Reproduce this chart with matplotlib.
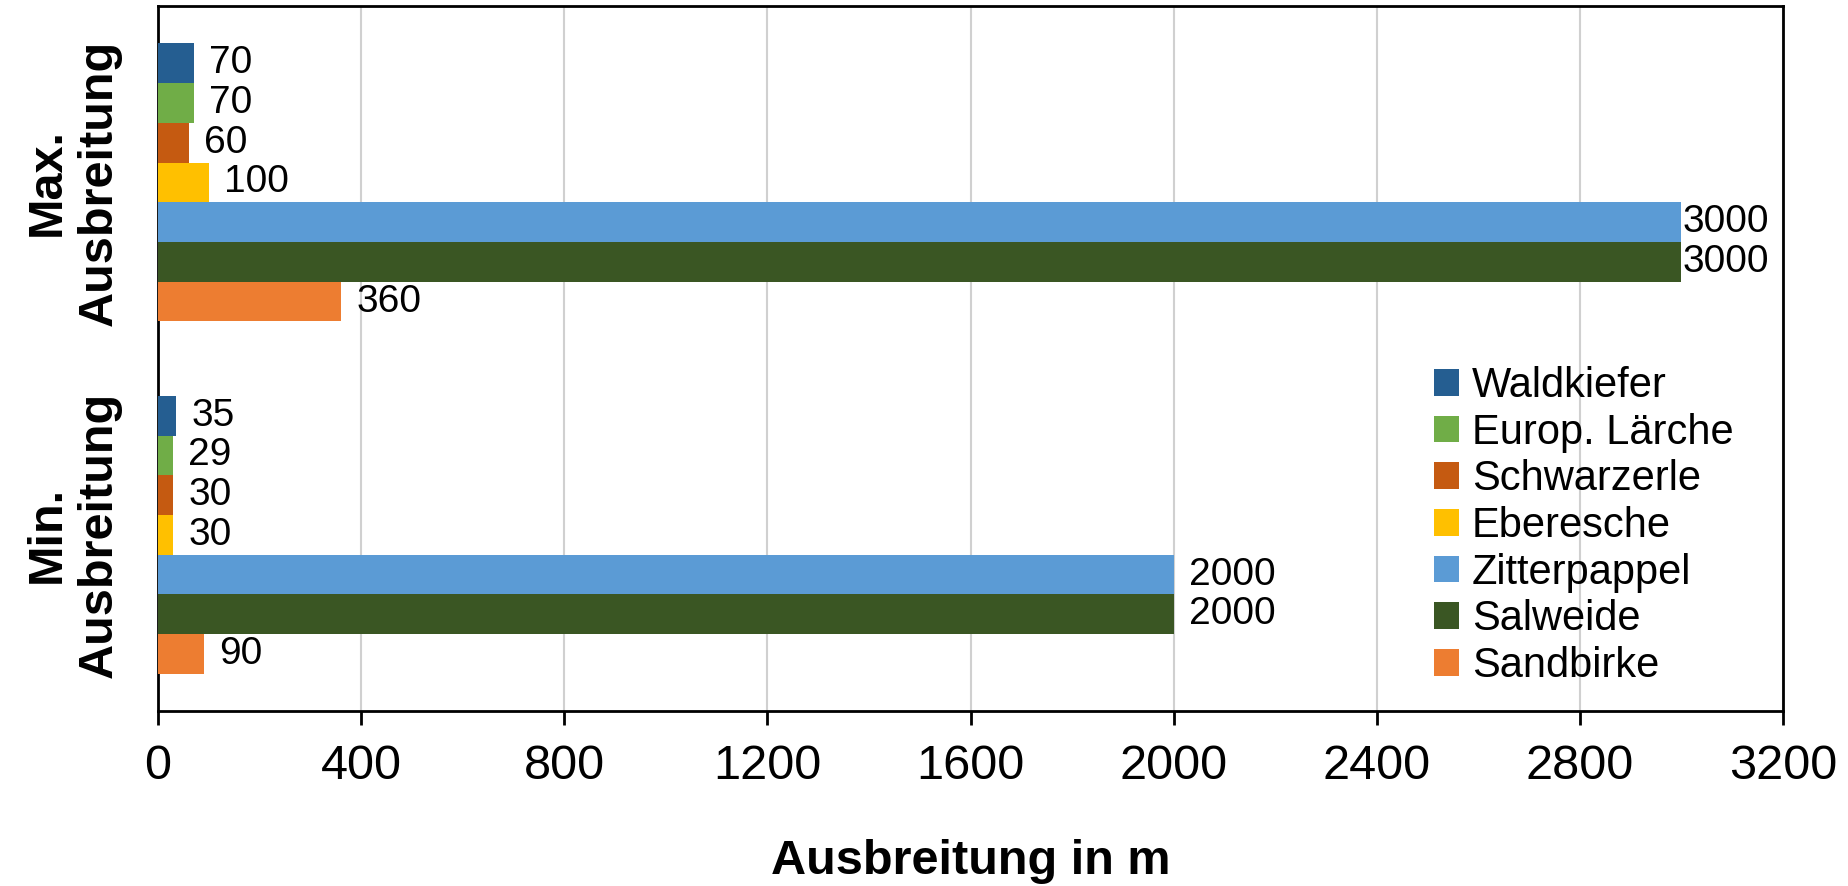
import numpy as np
import matplotlib.pyplot as plt

plt.rcParams['font.family'] = ['Liberation Sans', 'DejaVu Sans']

# Daten: Ausbreitung je Baumart
categories = ['Min.\nAusbreitung', 'Max.\nAusbreitung']
species = ['Waldkiefer', 'Europ. Lärche', 'Schwarzerle', 'Eberesche',
           'Zitterpappel', 'Salweide', 'Sandbirke']
min_values = [35, 29, 30, 30, 2000, 2000, 90]
max_values = [70, 70, 60, 100, 3000, 3000, 360]
colors = ['#255E91', '#70AD47', '#C55A11', '#FFC000',
          '#5B9BD5', '#3A5623', '#ED7D31']
x_ticks = [0, 400, 800, 1200, 1600, 2000, 2400, 2800, 3200]

fig = plt.figure(figsize=(18.49, 8.86), dpi=100)
ax = fig.add_axes([0.0855, 0.1975, 0.8788, 0.7955])

y_pos = np.arange(len(categories))
bar_h = 0.1127

for i, name in enumerate(species):
    vals = [min_values[i], max_values[i]]
    ypos = y_pos + (3 - i) * bar_h
    ax.barh(ypos, vals, height=bar_h, color=colors[i], label=name, zorder=3)
    for y, v in zip(ypos, vals):
        off = 1 if v >= 3000 else 11
        ax.annotate(str(v), xy=(v, y), xytext=(off, 0), textcoords='offset points',
                    va='center', ha='left', fontsize=28)

ax.set_xlim(0, 3200)
ax.set_ylim(-0.5, 1.5)
ax.set_xticks(x_ticks)
ax.set_xticklabels([str(t) for t in x_ticks], fontsize=35)
ax.tick_params(axis='x', direction='out', length=10, width=2, pad=14)
ax.set_yticks(y_pos)
ax.set_yticklabels(categories, rotation=90, fontsize=35, fontweight='bold',
                   va='center', ha='right', multialignment='center')
ax.tick_params(axis='y', length=0, pad=26)

ax.grid(axis='x', color='#D0D0D0', linewidth=1.5, zorder=0)
for s in ax.spines.values():
    s.set_linewidth(2)
    s.set_color('black')

ax.set_xlabel('Ausbreitung in m', fontsize=35, fontweight='bold', labelpad=36)

ax.legend(loc='lower right', bbox_to_anchor=(0.985, 0.0), frameon=False,
          fontsize=30, handlelength=0.6, handleheight=0.6, handletextpad=0.3,
          labelspacing=0.16, borderaxespad=0.2)

fig.savefig('out.png', dpi=100)
